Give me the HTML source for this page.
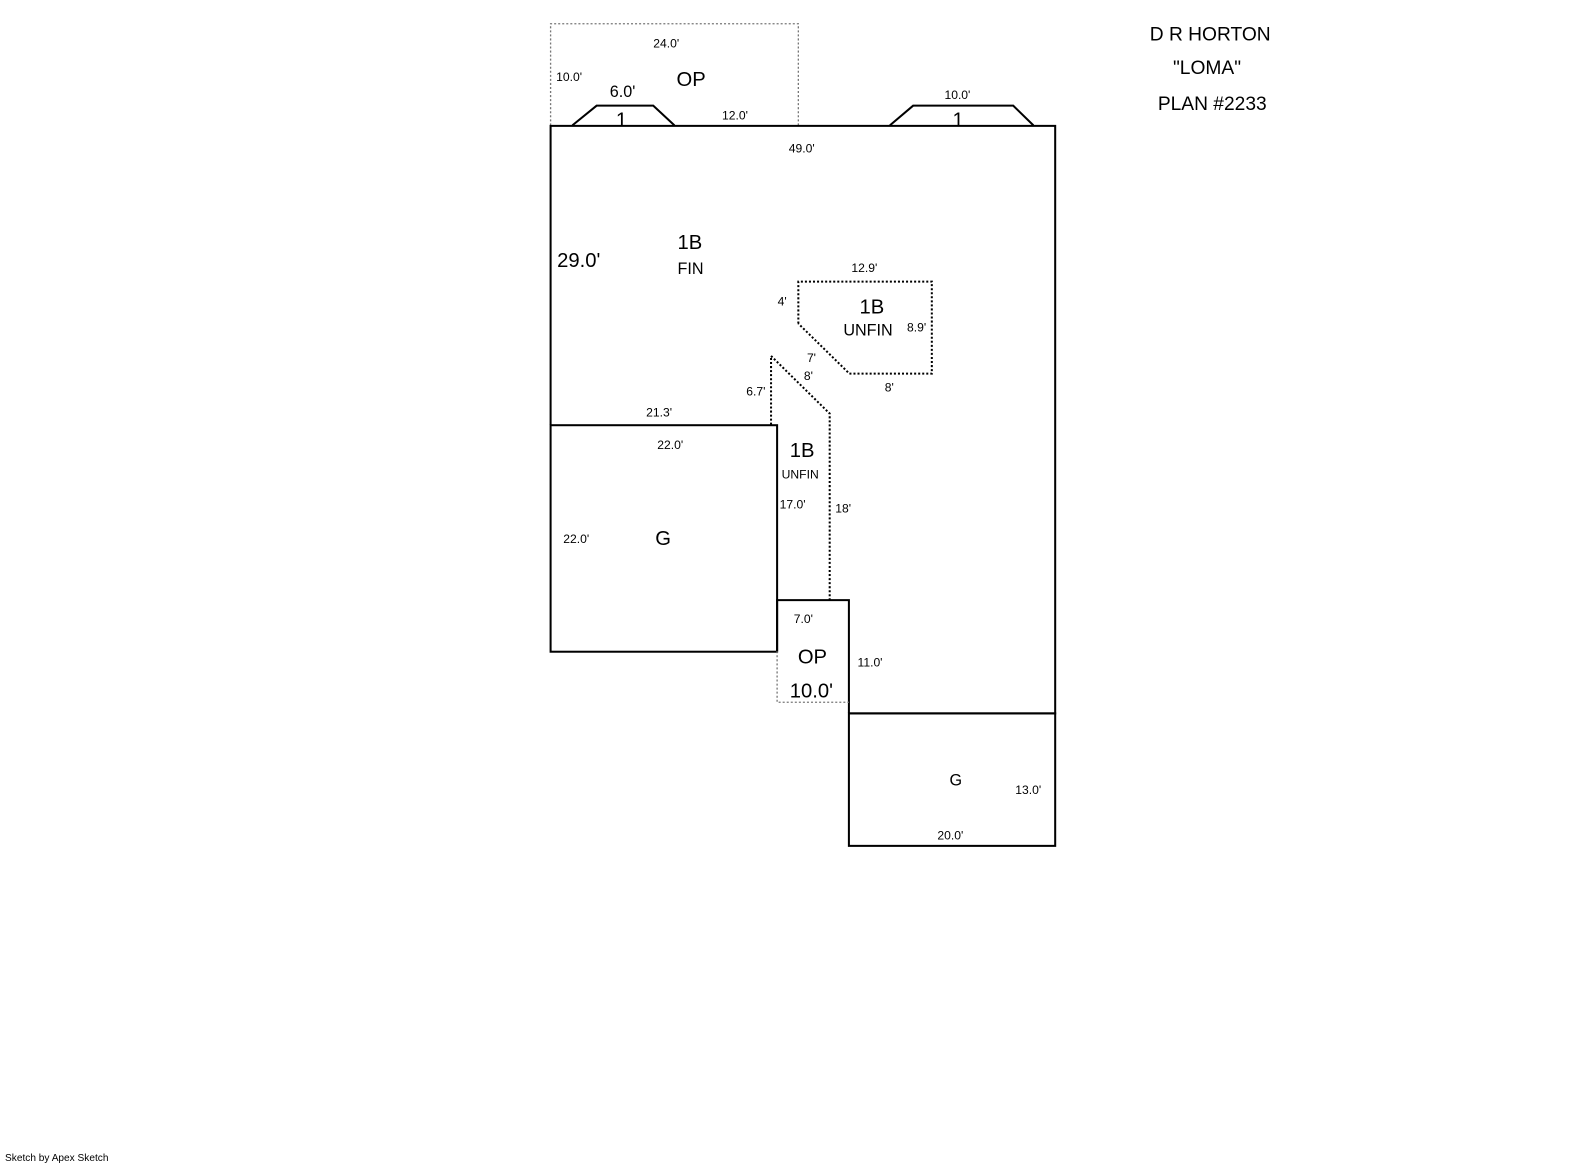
<!DOCTYPE html>
<html><head><style>
body{margin:0;background:#fff;}
svg{display:block;}
text{font-family:"Liberation Sans",sans-serif;fill:#000;}
.s{font-size:12px;}
.m{font-size:16px;}
.t{font-size:19px;}
.l{font-size:20px;}
</style></head><body>
<svg width="1585" height="1163" xmlns="http://www.w3.org/2000/svg">
<g transform="scale(1.0112)">
<g fill="none" stroke="#000">
<path d="M544.5 124 V23.5 H789.5 V124" stroke="#777" stroke-width="1.3" stroke-dasharray="2,2"/>
<path d="M544.5 420 V124.5 H1043.5 V705.5 H839.5" stroke-width="2"/>
<path d="M566 124 L590 104.5 H646 L667 124" stroke-width="2"/>
<path d="M880 124 L903 104.5 H1002 L1022 124" stroke-width="2"/>
<path d="M789.5 320 V278.5 H921.5 V369.5 H840 L789.5 320" stroke-width="2" stroke-dasharray="2,2"/>
<path d="M762.5 420 V352 L820.5 409 V593" stroke-width="2" stroke-dasharray="2,2"/>
<rect x="544.5" y="420.5" width="224" height="224" stroke-width="2"/>
<path d="M768.5 644 V593.5 H839.5 V705" stroke-width="2"/>
<path d="M768.5 644 V694.5 H839.5" stroke="#777" stroke-width="1.3" stroke-dasharray="2,2"/>
<rect x="839.5" y="705.5" width="204" height="131" stroke-width="2"/>
</g>
<text class="t" x="1137" y="40">D R HORTON</text>
<text class="t" x="1160" y="73">"LOMA"</text>
<text class="t" x="1145" y="109">PLAN #2233</text>
<text class="s" x="646" y="47">24.0'</text>
<text class="s" x="550" y="80">10.0'</text>
<text class="l" x="669" y="85">OP</text>
<text class="m" x="603" y="96">6.0'</text>
<text class="l" x="609" y="125">1</text>
<text class="s" x="714" y="118">12.0'</text>
<text class="s" x="934" y="98">10.0'</text>
<text class="l" x="942" y="125">1</text>
<text class="s" x="780" y="151">49.0'</text>
<text class="l" x="670" y="246">1B</text>
<text class="m" x="670" y="271">FIN</text>
<text class="l" x="551" y="264">29.0'</text>
<text class="s" x="842" y="269">12.9'</text>
<text class="s" x="769" y="302">4'</text>
<text class="l" x="850" y="310">1B</text>
<text class="m" x="834" y="332">UNFIN</text>
<text class="s" x="897" y="328">8.9'</text>
<text class="s" x="798" y="358">7'</text>
<text class="s" x="795" y="376">8'</text>
<text class="s" x="875" y="387">8'</text>
<text class="s" x="738" y="391">6.7'</text>
<text class="s" x="639" y="412">21.3'</text>
<text class="s" x="650" y="444">22.0'</text>
<text class="l" x="781" y="452">1B</text>
<text class="s" x="773" y="473">UNFIN</text>
<text class="s" x="771" y="503">17.0'</text>
<text class="s" x="826" y="507">18'</text>
<text class="s" x="557" y="537">22.0'</text>
<text class="l" x="648" y="539">G</text>
<text class="s" x="785" y="616">7.0'</text>
<text class="l" x="789" y="656">OP</text>
<text class="s" x="848" y="659">11.0'</text>
<text class="l" x="781" y="690">10.0'</text>
<text class="m" x="939" y="777">G</text>
<text class="s" x="1004" y="785">13.0'</text>
<text class="s" x="927" y="830">20.0'</text>
<text x="5" y="1148" style="font-size:10px">Sketch by Apex Sketch</text>
</g>
</svg>
</body></html>
